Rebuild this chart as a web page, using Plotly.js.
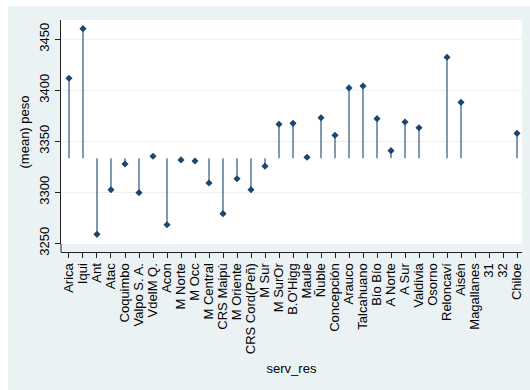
<!DOCTYPE html>
<html>
<head>
<meta charset="utf-8">
<script src="https://cdn.plot.ly/plotly-3.0.1.min.js"></script>
<style>
  html, body { margin: 0; padding: 0; background: #ffffff; overflow: hidden; }
  /* graph region sits inside a thin white page border */
  #chart { position: absolute; left: 8px; top: 6px; width: 522px; height: 384px; }
</style>
</head>
<body>
<div id="chart"></div>
<script>
// Health service of residence (serv_res) and mean birth weight per service
const categories = [
  "Arica", "Iqui", "Ant", "Atac", "Coquimbo", "Valpo S. A.", "VdelM Q.", "Acon",
  "M Norte", "M Occ", "M Central", "CRS Maipú", "M Oriente", "CRS Cord(Peñ)", "M Sur",
  "M SurOr", "B.O'Higg", "Maule", "Ñuble", "Concepción", "Arauco", "Talcahuano",
  "Bío Bío", "A Norte", "A Sur", "Valdivia", "Osorno", "Reloncaví", "Aisén",
  "Magallanes", "31", "32", "Chiloe"
];

const meanPeso = [
  3411.8, 3460.4, 3258.8, 3302.5, 3327.7, 3299.6, 3335.3, 3268.2,
  3331.7, 3330.7, 3309.1, 3279.0, 3313.3, 3302.5, 3325.6,
  3366.7, 3367.6, 3334.3, 3373.1, 3355.9, 3402.3, 3404.2,
  3372.2, 3340.8, 3368.9, 3363.3, null, 3432.4, 3388.2,
  null, null, null, 3357.8
];

// Level the drop lines start from
const dropBase = 3333.3;

const yTicks = [3250, 3300, 3350, 3400, 3450];

const navy = "#1a476f";
const bluishGray = "#eaf2f3";
const axisColor = "#222222";
const fontFamily = "Liberation Sans, Arial, Helvetica, sans-serif";

// Build the vertical drop segments, one per service with a value
const dropX = [];
const dropY = [];
categories.forEach((c, i) => {
  if (meanPeso[i] === null) return;
  dropX.push(c, c, null);
  dropY.push(dropBase, meanPeso[i], null);
});

const traces = [
  {
    type: "scatter",
    mode: "lines",
    x: dropX,
    y: dropY,
    line: { color: navy, width: 1.1 },
    hoverinfo: "skip",
    showlegend: false
  },
  {
    type: "scatter",
    mode: "markers",
    x: categories,
    y: meanPeso,
    marker: { symbol: "diamond", size: 5.5, color: navy, line: { width: 0 } },
    showlegend: false
  }
];

// the white plot region stops a few pixels above the x axis line
const yDomainBottom = 0.0345;

const layout = {
  width: 522,
  height: 384,
  margin: { l: 53, r: 8, t: 14, b: 138 },
  paper_bgcolor: bluishGray,
  plot_bgcolor: "#ffffff",
  font: { family: fontFamily, size: 13, color: "#000000" },
  showlegend: false,
  xaxis: {
    type: "category",
    categoryorder: "array",
    categoryarray: categories,
    tickmode: "array",
    tickvals: categories,
    ticktext: categories,
    range: [-0.571, 32.357],
    anchor: "free",
    position: 0,
    showgrid: false,
    zeroline: false,
    showline: true,
    linecolor: axisColor,
    linewidth: 1,
    ticks: "outside",
    ticklen: 5,
    tickwidth: 1,
    tickcolor: axisColor,
    tickangle: -90,
    tickfont: { family: fontFamily, size: 13, color: "#000000" },
    title: { text: "serv_res", font: { family: fontFamily, size: 13, color: "#000000" }, standoff: 10 }
  },
  yaxis: {
    domain: [yDomainBottom, 1],
    range: [3249.3, 3468.9],
    tickmode: "array",
    tickvals: yTicks,
    ticktext: yTicks.map(String),
    showgrid: true,
    gridcolor: bluishGray,
    gridwidth: 1.2,
    zeroline: false,
    showline: true,
    linecolor: axisColor,
    linewidth: 1,
    ticks: "outside",
    ticklen: 5,
    tickwidth: 1,
    tickcolor: axisColor,
    tickangle: -90,
    ticklabelstandoff: 1,
    tickfont: { family: fontFamily, size: 13, color: "#000000" },
    title: { text: "(mean) peso", font: { family: fontFamily, size: 13, color: "#000000" }, standoff: 4 }
  },
  shapes: [
    // y axis line continues down to meet the x axis
    {
      type: "line", layer: "above", xref: "paper", yref: "paper",
      x0: 0, x1: 0, y0: 0, y1: yDomainBottom,
      line: { color: axisColor, width: 1 }
    }
  ]
};

Plotly.newPlot("chart", traces, layout, { displayModeBar: false, staticPlot: true });
</script>
</body>
</html>
